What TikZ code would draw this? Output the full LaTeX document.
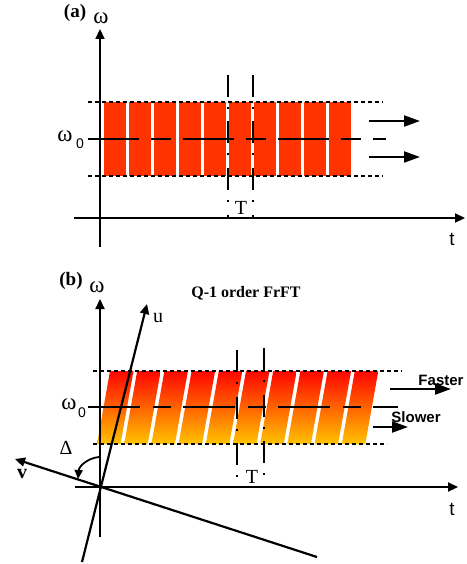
\documentclass[tikz,border=0pt]{standalone}
\usepackage{fontspec}
\setmainfont{Liberation Serif}
\setsansfont{Liberation Sans}
\usetikzlibrary{arrows.meta}
\definecolor{bandred}{RGB}{255, 51, 0}
\definecolor{shadetop}{RGB}{255, 5, 0}
\definecolor{shademid}{RGB}{255, 75, 0}
\definecolor{shadebot}{RGB}{255, 195, 0}

\begin{document}
\begin{tikzpicture}[
  x=1pt, y=-1pt,
  every node/.style = {inner sep=0pt},
  axis/.style       = {line width=2.2pt, -{Triangle[length=10pt, width=9pt]}},
  bandedge/.style   = {line width=2.2pt, dash pattern=on 4pt off 3pt},
  centreline/.style = {line width=2.4pt, dash pattern=on 51pt off 12pt on 20pt off 12pt},
  periodline/.style = {line width=2.4pt, dash pattern=on 22pt off 10pt on 2pt off 12.5pt},
  drift/.style      = {line width=2.2pt, -{Triangle[length=16pt, width=11pt]}},
  axlabel/.style    = {font=\fontsize{20}{20}\selectfont},
  omlabel/.style    = {font=\fontsize{23}{23}\selectfont},
  sublabel/.style   = {font=\sffamily\fontsize{14}{14}\selectfont},
  tlabel/.style     = {font=\sffamily\fontsize{19}{19}\selectfont},
  panel/.style      = {font=\bfseries\fontsize{19}{19}\selectfont},
  speed/.style      = {font=\sffamily\bfseries\fontsize{15}{15}\selectfont},
  stripe/.style     = {top color=shadetop, middle color=shademid, bottom color=shadebot}
]
\useasboundingbox (0,0) rectangle (466,564);

% (a) plain chirp-free band
\foreach \i in {0,...,9}
  \fill[bandred] ({104+25*\i},102) rectangle ++(22,74);

\coordinate (a_top_l) at (88,102);  \coordinate (a_top_r) at (383,102);
\coordinate (a_bot_l) at (88,176);  \coordinate (a_bot_r) at (383,176);
\coordinate (a_mid_l) at (88,139);  \coordinate (a_mid_r) at (386,139);
\coordinate (a_p1_t) at (228,75);   \coordinate (a_p1_b) at (228,218);
\coordinate (a_p2_t) at (253,75);   \coordinate (a_p2_b) at (253,218);
\coordinate (a_w0) at (100,247);    \coordinate (a_w1) at (100,29);
\coordinate (a_t0) at (74,218);     \coordinate (a_t1) at (465,218);
\coordinate (a_up0) at (369,121);   \coordinate (a_up1) at (420,121);
\coordinate (a_lo0) at (369,157);   \coordinate (a_lo1) at (420,157);

\draw[bandedge]   (a_top_l) -- (a_top_r);
\draw[bandedge]   (a_bot_l) -- (a_bot_r);
\draw[centreline] (a_mid_l) -- (a_mid_r);
\draw[periodline] (a_p1_t) -- (a_p1_b);
\draw[periodline] (a_p2_t) -- (a_p2_b);
\draw[axis] (a_w0) -- (a_w1);
\draw[axis] (a_t0) -- (a_t1);
\draw[drift] (a_up0) -- (a_up1);
\draw[drift] (a_lo0) -- (a_lo1);

\node[panel]    (a_tag)   at (75,13)   {(a)};
\node[omlabel]  (a_omega) at (101,18)  {ω};
\node[omlabel]  (a_om0)   at (65,136)  {ω};
\node[sublabel] (a_om0s)  at (80,144)  {0};
\node[axlabel]  (a_T)     at (241,208) {T};
\node[tlabel]   (a_t)     at (452,239) {t};

% (b) after the fractional transform
\foreach \i in {0,...,9}
  \shade[stripe] ({97+27.2*\i},444) -- ++(23.5,0) -- ++(13,-73) -- ++(-23.5,0) -- cycle;

\coordinate (b_top_l) at (93,371);  \coordinate (b_top_r) at (402,371);
\coordinate (b_bot_l) at (93,444);  \coordinate (b_bot_r) at (387,444);
\coordinate (b_mid_l) at (88,407);  \coordinate (b_mid_r) at (398,407);
\coordinate (b_p1_t) at (237,350);  \coordinate (b_p1_b) at (237,480);
\coordinate (b_p2_t) at (264,348);  \coordinate (b_p2_b) at (264,480);
\coordinate (b_w0) at (100,537);    \coordinate (b_w1) at (100,299);
\coordinate (b_t0) at (75,487);     \coordinate (b_t1) at (458,487);
\coordinate (b_u0) at (82,562);     \coordinate (b_u1) at (147,304);
\coordinate (b_v0) at (317,557);    \coordinate (b_v1) at (15,459);
\coordinate (b_fa0) at (390,389);   \coordinate (b_fa1) at (451,389);
\coordinate (b_sl0) at (373,427);   \coordinate (b_sl1) at (408,427);
\coordinate (b_ang0) at (99,457);   \coordinate (b_ang1) at (78,479);

\draw[bandedge]   (b_top_l) -- (b_top_r);
\draw[bandedge]   (b_bot_l) -- (b_bot_r);
\draw[centreline, dash pattern=on 52pt off 13pt on 18pt off 12pt] (b_mid_l) -- (b_mid_r);
\draw[periodline] (b_p1_t) -- (b_p1_b);
\draw[periodline] (b_p2_t) -- (b_p2_b);
\draw[axis] (b_w0) -- (b_w1);
\draw[axis] (b_t0) -- (b_t1);
\draw[axis] (b_u0) -- (b_u1);
\draw[axis] (b_v0) -- (b_v1);
\draw[drift] (b_fa0) -- (b_fa1);
\draw[drift] (b_sl0) -- (b_sl1);
\draw[line width=1.8pt, -{Triangle[length=9pt, width=8pt]}]
  (b_ang0) .. controls (88,458) and (79,466) .. (b_ang1);

\node[panel]    (b_tag)   at (71,281)  {(b)};
\node[omlabel]  (b_omega) at (97,287)  {ω};
\node[panel, font=\bfseries\fontsize{16}{16}\selectfont]
                (b_title) at (246,293) {Q-1 order FrFT};
\node[axlabel]  (b_u)     at (158,318) {u};
\node[axlabel, font=\bfseries\fontsize{20}{20}\selectfont]
                (b_v)     at (22,474)  {v};
\node[axlabel]  (b_delta) at (66,448)  {Δ};
\node[omlabel]  (b_om0)   at (69,404)  {ω};
\node[sublabel] (b_om0s)  at (82,413)  {0};
\node[axlabel]  (b_T)     at (252,477) {T};
\node[tlabel]   (b_t)     at (452,509) {t};
\node[speed]    (b_fast)  at (441,380) {Faster};
\node[speed]    (b_slow)  at (416,417) {Slower};
\end{tikzpicture}
\end{document}
